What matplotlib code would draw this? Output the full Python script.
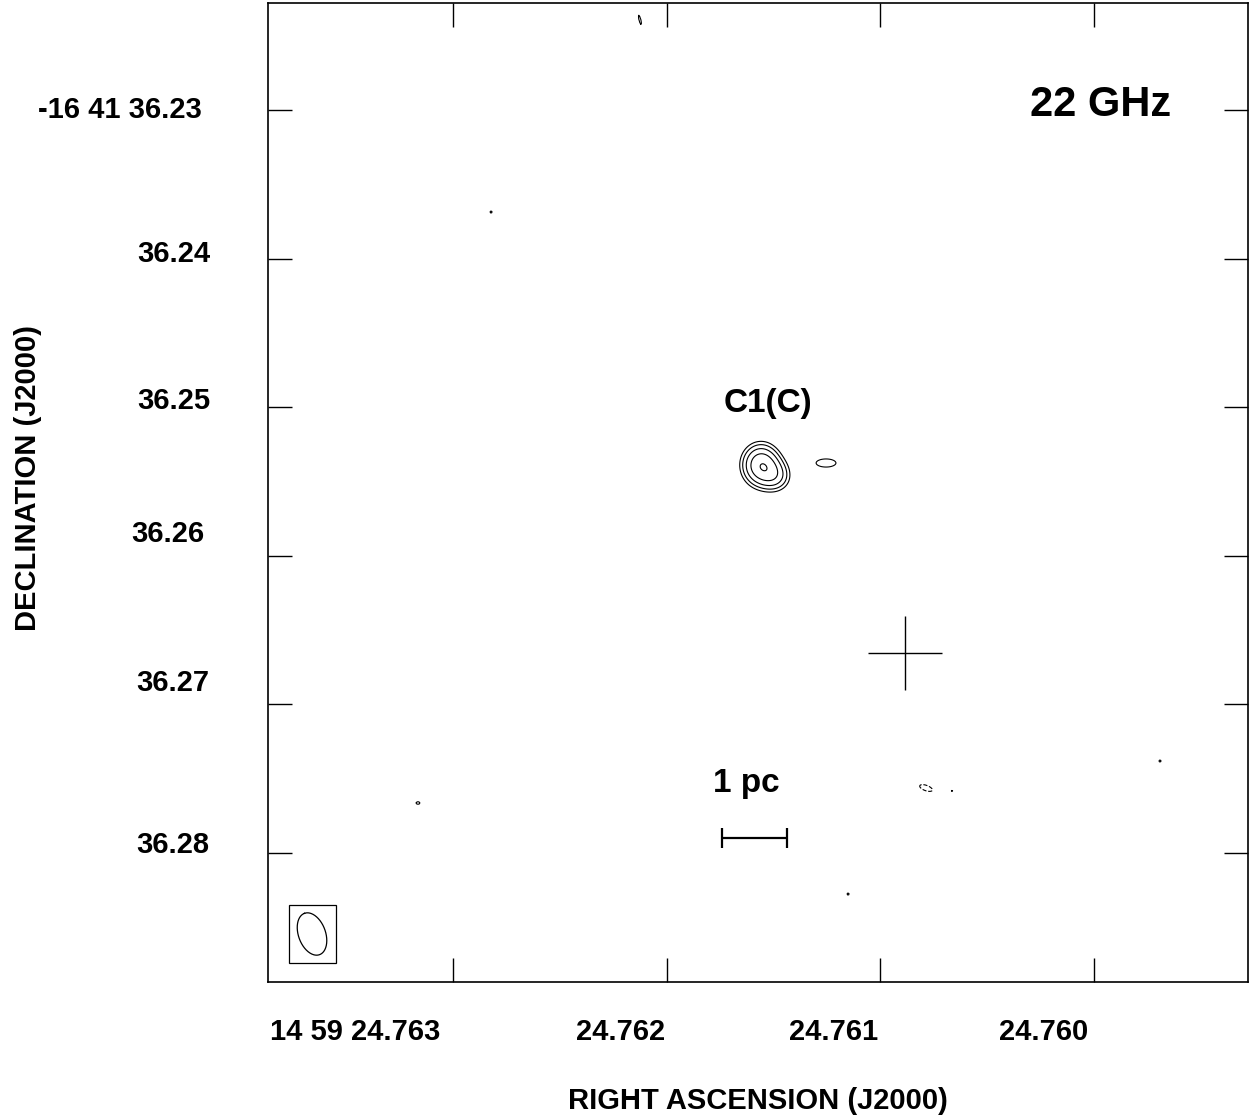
import numpy as np
import matplotlib
matplotlib.use('Agg')
import matplotlib.pyplot as plt
from matplotlib.patches import Rectangle
from matplotlib.transforms import ScaledTranslation

plt.rcParams['font.family'] = ['Liberation Sans', 'DejaVu Sans']
plt.rcParams['font.weight'] = 'bold'
plt.rcParams['axes.labelweight'] = 'bold'

# map frame: RA seconds of 14h59m, Dec arcsec of -16d41m
ra_lim = [24.763866, 24.759279]
dec_lim = [36.28868, 36.2228]
cos_dec = np.cos(np.radians(16.694))

ra_ticks = [24.763, 24.762, 24.761, 24.760]
ra_labels = ['14 59 24.763', '24.762', '24.761', '24.760']
dec_ticks = [36.23, 36.24, 36.25, 36.26, 36.27, 36.28]
dec_labels = ['-16 41 36.23', '36.24', '36.25', '36.26', '36.27', '36.28']

# emission components: RA (s), Dec ("), peak (x rms), sigma maj ("), sigma min ("), PA (deg)
comp_ra = [24.7615585, 24.7614836, 24.761254, 24.762125, 24.762822, 24.763164,
           24.760786, 24.760665, 24.759691, 24.761151]
comp_dec = [36.25389, 36.254697, 36.253755, 36.223943, 36.236864, 36.276635,
            36.275626, 36.275828, 36.273809, 36.282759]
comp_peak = [11.2, 4.5, 4.0, 3.3, 3.2, 3.3, -3.6, 3.2, 3.2, 3.2]
comp_smaj = [0.00098, 0.00074, 0.00088, 0.00077, 0.0002, 0.0003, 0.00075, 0.0002, 0.0002, 0.0002]
comp_smin = [0.00088, 0.00074, 0.00036, 0.00015, 0.0002, 0.0002, 0.00030, 0.0002, 0.0002, 0.0002]
comp_pa = [0, 0, 90, 15, 0, 90, 70, 0, 0, 0]

levels = [-3, 3, 4.24, 6, 8.49, 12]

# restoring beam (")
beam_ra, beam_dec = 24.763660, 36.28545
beam_major, beam_minor, beam_pa = 0.00296, 0.00182, 20

# reference cross and 1 pc scale bar
cross_ra, cross_dec = 24.760885, 36.26654
cross_size = 0.00249  # arcsec half-length
bar_ra, bar_dec = 24.761589, 36.27899
one_pc = 0.00437  # arcsec

# build the map
ra_grid = np.linspace(ra_lim[0], ra_lim[1], 1000)
dec_grid = np.linspace(dec_lim[1], dec_lim[0], 1000)
RA, DEC = np.meshgrid(ra_grid, dec_grid)
image = np.zeros_like(RA)
for r0, d0, pk, sa, sb, pa in zip(comp_ra, comp_dec, comp_peak, comp_smaj, comp_smin, comp_pa):
    east = (RA - r0) * 15 * cos_dec
    north = -(DEC - d0)
    t = np.radians(pa)
    u = east * np.sin(t) + north * np.cos(t)
    v = east * np.cos(t) - north * np.sin(t)
    image += pk * np.exp(-0.5 * ((u / sa) ** 2 + (v / sb) ** 2))

fig = plt.figure(figsize=(12.5, 11.2), dpi=100)
ax = fig.add_axes([268 / 1250, 1 - 982 / 1120, 980 / 1250, 979 / 1120])

ax.contour(RA, DEC, image, levels=levels, colors='black', linewidths=0.8,
           negative_linestyles='dashed')

# beam ellipse and its box
tt = np.linspace(0, 2 * np.pi, 200)
bu = beam_major / 2 * np.cos(tt)
bv = beam_minor / 2 * np.sin(tt)
bt = np.radians(beam_pa)
b_east = bu * np.sin(bt) + bv * np.cos(bt)
b_north = bu * np.cos(bt) - bv * np.sin(bt)
ax.plot(beam_ra + b_east / (15 * cos_dec), beam_dec - b_north, color='black', lw=0.9)
box_w = 0.00316 / (15 * cos_dec)
box_h = 0.0039
ax.add_patch(Rectangle((beam_ra + box_w / 2, beam_dec - box_h / 2), -box_w, box_h,
                       fill=False, edgecolor='black', lw=0.9))

ax.errorbar(cross_ra, cross_dec, xerr=cross_size / (15 * cos_dec), yerr=cross_size,
            fmt='none', ecolor='black', elinewidth=1.0, capsize=0)
ax.errorbar(bar_ra, bar_dec, xerr=one_pc / 2 / (15 * cos_dec), fmt='none',
            ecolor='black', elinewidth=1.6, capsize=7.2, capthick=1.6)

ax.text(bar_ra + 0.00004, bar_dec - 0.0037, '1 pc', fontsize=24, ha='center', va='center')
ax.text(24.761526, 36.24978, 'C1(C)', fontsize=24, ha='center', va='center')
ax.text(0.85, 0.896, '22 GHz', transform=ax.transAxes, fontsize=30, ha='center', va='center')

ax.set_xlim(ra_lim)
ax.set_ylim(dec_lim)
ax.set_xticks(ra_ticks)
ax.set_xticklabels(ra_labels, ha='right')
ax.set_yticks(dec_ticks)
ax.set_yticklabels(dec_labels)
ax.tick_params(direction='in', length=17, width=1.0, top=True, right=True, labelsize=21)
ax.tick_params(axis='x', pad=26)
ax.tick_params(axis='y', pad=42)
for s in ax.spines.values():
    s.set_linewidth(1.2)

# nudge tick labels to where they sit in the original (pixels)
x_shift = [(-13, 0), (-2, 0), (-2, 0), (-6, 0)]
y_shift = [(-8, 3), (1, 8), (1, 9), (-5, 25), (0, 24), (0, 11)]
for lab, (dx, dy) in zip(ax.get_xticklabels(), x_shift):
    lab.set_transform(lab.get_transform() + ScaledTranslation(dx / 100, dy / 100, fig.dpi_scale_trans))
for lab, (dx, dy) in zip(ax.get_yticklabels(), y_shift):
    lab.set_transform(lab.get_transform() + ScaledTranslation(dx / 100, dy / 100, fig.dpi_scale_trans))

ax.set_xlabel('RIGHT ASCENSION (J2000)', fontsize=21, fontweight='bold')
ax.set_ylabel('DECLINATION (J2000)', fontsize=21, fontweight='bold')
ax.xaxis.set_label_coords(0.5, -(1101 - 982) / 979)
ax.xaxis.label.set_va('center')
ax.yaxis.set_label_coords((28 - 268) / 980, 1 - (478 - 3) / 979)
ax.yaxis.label.set_va('center')

fig.savefig('out.png', dpi=100)
